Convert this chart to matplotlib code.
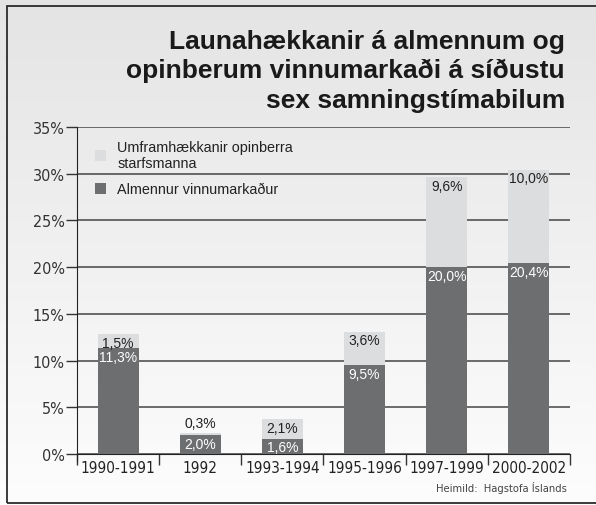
import numpy as np
import matplotlib
matplotlib.use('Agg')
import matplotlib.pyplot as plt
from matplotlib.patches import Rectangle
from matplotlib import font_manager

periods = ['1990-1991', '1992', '1993-1994', '1995-1996', '1997-1999', '2000-2002']
almennur = [11.3, 2.0, 1.6, 9.5, 20.0, 20.4]
umfram = [1.5, 0.3, 2.1, 3.6, 9.6, 10.0]
y_ticks = [0, 5, 10, 15, 20, 25, 30, 35]

series_names = ['Umframhækkanir opinberra\nstarfsmanna', 'Almennur vinnumarkaður']
title = 'Launahækkanir á almennum og\nopinberum vinnumarkaði á síðustu\nsex samningstímabilum'
source = 'Heimild:  Hagstofa Íslands'

DARK = '#6d6e70'
LIGHT = '#dcdddf'
W, H = 596, 506

# look for an upright condensed face for the axis labels
cond = [f for f in font_manager.fontManager.ttflist
        if f.name == 'DejaVu Sans' and f.stretch == 'condensed'
        and f.style == 'normal' and f.weight in ('normal', 400)]
if cond:
    NARROW = font_manager.FontProperties(fname=cond[0].fname)
else:
    NARROW = font_manager.FontProperties(family='DejaVu Sans')


def narrow(size):
    p = NARROW.copy()
    p.set_size(size)
    return p


def fmt(v):
    return '{0:.1f}%'.format(v).replace('.', ',')


fig = plt.figure(figsize=(W / 100, H / 100), dpi=100)

# background gradient, light grey at top fading to white
bg = fig.add_axes([0, 0, 1, 1], zorder=-10)
grad = np.linspace(0, 1, 256).reshape(-1, 1)
bg.imshow(grad, aspect='auto', cmap=matplotlib.colors.LinearSegmentedColormap.from_list(
    'g', ['#e4e4e4', '#fdfdfd']), extent=[0, 1, 0, 1])
bg.set_axis_off()
bg.add_patch(Rectangle((7 / W, 2 / H), 1.2, (504 - 7) / H, transform=fig.transFigure,
                       fill=False, edgecolor='#2b2b2b', linewidth=1.3))

ax = fig.add_axes([77 / W, 51 / H, (570 - 77) / W, 327 / H])
ax.patch.set_alpha(0)

x = np.arange(len(periods))
ax.bar(x, almennur, width=0.5, color=DARK, zorder=3, label=series_names[1])
ax.bar(x, umfram, width=0.5, bottom=almennur, color=LIGHT, zorder=3, label=series_names[0])

for xi, a, u in zip(x, almennur, umfram):
    ax.annotate(fmt(a), (xi, a), xytext=(0, -1), textcoords='offset points',
                ha='center', va='top', color='white', fontsize=10, zorder=4,
                family='Liberation Sans')
    if u < 1:
        ax.annotate(fmt(u), (xi, a + u), xytext=(0, 2), textcoords='offset points',
                    ha='center', va='bottom', color='#222222', fontsize=10, zorder=4,
                    family='Liberation Sans')
    else:
        ax.annotate(fmt(u), (xi, a + u), xytext=(0, -1), textcoords='offset points',
                    ha='center', va='top', color='#222222', fontsize=10, zorder=4,
                    family='Liberation Sans')

ax.set_xlim(-0.5, len(periods) - 0.5)
ax.set_ylim(0, 35)
ax.set_yticks(y_ticks)
ax.set_yticklabels(['{0}%'.format(t) for t in y_ticks], fontproperties=narrow(11.5),
                   color='#333333')
ax.yaxis.grid(True, color='#444444', linewidth=1.1, zorder=1)
ax.set_axisbelow(True)
ax.tick_params(axis='y', direction='out', length=8, width=1, color='#333333', pad=1)

ax.set_xticks(np.arange(-0.5, len(periods)), minor=False)
ax.set_xticklabels([])
ax.set_xticks(x, minor=True)
ax.set_xticklabels(periods, minor=True, fontproperties=narrow(11), color='#222222')
ax.tick_params(axis='x', which='major', direction='out', length=8, width=1, color='#333333')
ax.tick_params(axis='x', which='minor', length=0, pad=4)

for side in ['top', 'right']:
    ax.spines[side].set_visible(False)
ax.spines['left'].set_color('#222222')
ax.spines['bottom'].set_color('#222222')
ax.spines['left'].set_bounds(-0.8, 35)

handles, labels = ax.get_legend_handles_labels()
leg = ax.legend(handles[::-1], labels[::-1], loc='upper left', bbox_to_anchor=(0.01, 1.0),
                frameon=False, handlelength=0.75, handleheight=0.75, handletextpad=0.8,
                labelspacing=0.85, prop={'family': 'Liberation Sans', 'size': 10.4})
for t in leg.get_texts():
    t.set_color('#222222')

fig.text(565 / W, 1 - 30 / H, title, ha='right', va='top', fontsize=19, fontweight='bold',
         family='Liberation Sans', color='#1a1a1a', linespacing=1.27)
fig.text(567 / W, 1 - 488 / H, source, ha='right', va='center', fontproperties=narrow(8),
         color='#444444')

fig.savefig('out.png', dpi=100)
